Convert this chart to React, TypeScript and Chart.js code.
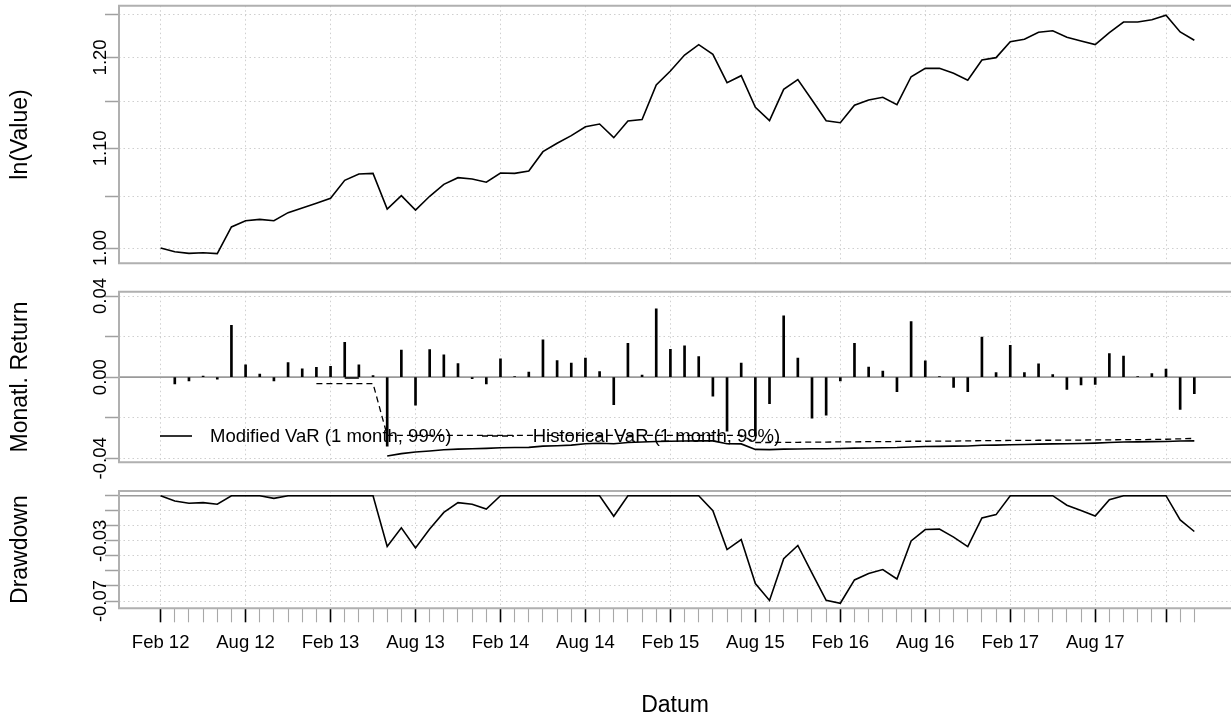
import React, { useEffect, useRef } from 'react';
import { Chart, registerables } from 'chart.js';

Chart.register(...registerables);

const FONT = '"Liberation Sans", Arial, Helvetica, sans-serif';

// x positions are month indices (0 = first observation)
const TICK_LABELS = ['Feb 12', 'Aug 12', 'Feb 13', 'Aug 13', 'Feb 14', 'Aug 14', 'Feb 15', 'Aug 15', 'Feb 16', 'Aug 16', 'Feb 17', 'Aug 17'];
const TICK_INDEX = [0, 6, 12, 18, 24, 30, 36, 42, 48, 54, 60, 66];
const MAJOR_TICK_INDEX = [0, 6, 12, 18, 24, 30, 36, 42, 48, 54, 60, 66, 71];

const WEALTH = [
  1.0, 0.9965, 0.9949, 0.9955, 0.9946, 1.0203, 1.0264, 1.0278, 1.0264, 1.0344,
  1.039, 1.0437, 1.0487, 1.0669, 1.0733, 1.074, 1.038, 1.0513, 1.037, 1.0507,
  1.0628, 1.0696, 1.0682, 1.0649, 1.0744, 1.074, 1.0764, 1.0965, 1.1054, 1.1135,
  1.123, 1.1259, 1.1113, 1.1292, 1.1307, 1.1688, 1.1845, 1.2027, 1.2147, 1.2035,
  1.1713, 1.1792, 1.1441, 1.1295, 1.1639, 1.1747, 1.1521, 1.1295, 1.1273, 1.1463,
  1.1521, 1.1551, 1.1469, 1.178, 1.1875, 1.1875, 1.1819, 1.174, 1.197, 1.1997,
  1.2182, 1.2209, 1.2291, 1.231, 1.2233, 1.2189, 1.2147, 1.2287, 1.2413, 1.2413,
  1.244, 1.2493, 1.2295, 1.2198,
];

const RETURNS = [
  null, -0.0033, -0.0018, 0.0005, -0.001, 0.0255, 0.0061, 0.0015, -0.0018, 0.0072,
  0.0041, 0.0049, 0.0053, 0.0172, 0.0061, 0.0008, -0.034, 0.0133, -0.0138, 0.0136,
  0.011, 0.0067, -0.0007, -0.0033, 0.009, 0.0002, 0.0025, 0.0184, 0.0082, 0.0069,
  0.0094, 0.0028, -0.0136, 0.0167, 0.001, 0.0337, 0.0137, 0.0154, 0.0102, -0.0094,
  -0.0266, 0.0069, -0.029, -0.0131, 0.0302, 0.0094, -0.0202, -0.0187, -0.0018, 0.0167,
  0.005, 0.003, -0.0071, 0.0274, 0.0081, 0.0003, -0.0051, -0.0071, 0.0198, 0.0023,
  0.0157, 0.0023, 0.0066, 0.0013, -0.006, -0.0038, -0.0036, 0.0116, 0.0104, 0.0002,
  0.0018, 0.004, -0.0159, -0.0081,
];

const MOD_VAR = [
  null, null, null, null, null, null, null, null, null, null,
  null, null, null, -0.0004, -0.0004, null, -0.0389, -0.0377, -0.0369, -0.0364,
  -0.0358, -0.0355, -0.0353, -0.0351, -0.0348, -0.0347, -0.0346, -0.034, -0.0338, -0.0335,
  -0.0328, -0.0326, -0.0328, -0.0322, -0.032, -0.0317, -0.0316, -0.0315, -0.0314, -0.0314,
  -0.0328, -0.0329, -0.0356, -0.0357, -0.0355, -0.0354, -0.0353, -0.0353, -0.0352, -0.035,
  -0.0349, -0.0348, -0.0347, -0.0344, -0.0342, -0.0341, -0.034, -0.0339, -0.0336, -0.0335,
  -0.0333, -0.0332, -0.033, -0.0329, -0.0328, -0.0327, -0.0325, -0.0322, -0.032, -0.0319,
  -0.0318, -0.0317, -0.0315, -0.0314,
];

const HIST_VAR = [
  null, null, null, null, null, null, null, null, null, null,
  null, -0.0032, -0.0032, -0.0032, -0.0032, -0.0032, -0.0287, -0.0287, -0.0287, -0.0287,
  -0.0287, -0.0287, -0.0287, -0.0287, -0.0287, -0.0287, -0.0287, -0.0287, -0.0287, -0.0287,
  -0.0287, -0.0287, -0.0287, -0.0287, -0.0287, -0.0287, -0.0287, -0.0287, -0.0287, -0.0287,
  -0.0287, -0.0287, -0.0322, -0.0322, -0.0321, -0.0321, -0.032, -0.032, -0.0319, -0.0319,
  -0.0318, -0.0318, -0.0317, -0.0316, -0.0316, -0.0315, -0.0315, -0.0314, -0.0313, -0.0313,
  -0.0312, -0.0312, -0.0311, -0.0311, -0.031, -0.031, -0.0309, -0.0309, -0.0308, -0.0308,
  -0.0307, -0.0306, -0.0304, -0.0302,
];

const DRAWDOWN = [
  0, -0.0035, -0.005, -0.0046, -0.0057, 0, 0, 0, -0.0018, 0,
  0, 0, 0, 0, 0, 0, -0.0338, -0.0214, -0.0347, -0.0222,
  -0.0111, -0.0046, -0.0057, -0.0089, 0, 0, 0, 0, 0, 0,
  0, 0, -0.0137, 0, 0, 0, 0, 0, 0, -0.01,
  -0.0358, -0.0292, -0.0584, -0.0696, -0.0419, -0.0331, -0.0515, -0.0696, -0.0715, -0.056,
  -0.0517, -0.0491, -0.0554, -0.0301, -0.0225, -0.0222, -0.0275, -0.0338, -0.0148, -0.0126,
  0, 0, 0, 0, -0.0063, -0.0098, -0.0135, -0.0026, 0, 0,
  0, 0, -0.0161, -0.0238,
];

const VALUE_TICKS = [1.0, 1.05, 1.1, 1.15, 1.2, 1.25];
const VALUE_LABELS = [1.0, 1.1, 1.2];
const RETURN_TICKS = [-0.04, -0.02, 0, 0.02, 0.04];
const RETURN_LABELS = [-0.04, 0, 0.04];
const DD_TICKS = [0, -0.01, -0.02, -0.03, -0.04, -0.05, -0.06, -0.07];
const DD_LABELS = [-0.03, -0.07];

const LEGEND_ITEMS = ['Modified VaR (1 month, 99%)', 'Historical VaR (1 month, 99%)'];

const GRID = '#cfcfcf';
const FRAME = '#b0b0b0';
const X_MIN = -2.94;
const X_MAX = 75.59;
const Y_AXIS_W = 119;
const TITLE_SIZE = 23;

// canvas slices (they overlap; canvases are transparent)
const C1 = { top: 0, h: 290 };
const C2 = { top: 250, h: 260 };
const C3 = { top: 470, h: 252 };

const toXY = (arr: (number | null)[]) => arr.map((v, i) => ({ x: i, y: v }));

function xScale(bottom: boolean, axisHeight: number): any {
  const isMajor = (c: any) => MAJOR_TICK_INDEX.includes(Math.round(c.tick ? c.tick.value : -1));
  return {
    type: 'linear',
    min: X_MIN,
    max: X_MAX,
    offset: false,
    afterBuildTicks: (s: any) => {
      s.ticks = WEALTH.map((_, i) => ({ value: i }));
    },
    afterFit: (s: any) => {
      s.height = bottom ? axisHeight : 0;
    },
    ticks: {
      display: bottom,
      autoSkip: false,
      maxRotation: 0,
      minRotation: 0,
      padding: 10,
      color: '#000',
      font: { family: FONT, size: 18.5 },
      callback: (v: any) => {
        const k = TICK_INDEX.indexOf(Math.round(v));
        return k >= 0 ? TICK_LABELS[k] : '';
      },
    },
    grid: {
      offset: false,
      color: (c: any) => (isMajor(c) ? GRID : 'rgba(0,0,0,0)'),
      lineWidth: 1,
      drawTicks: bottom,
      tickLength: 14,
      tickColor: (c: any) => (isMajor(c) ? '#000' : '#a8a8a8'),
      tickWidth: (c: any) => (isMajor(c) ? 1.6 : 1.1),
      tickBorderDash: [],
    },
    border: { display: false, dash: [1.5, 3] },
    title: bottom
      ? { display: true, text: 'Datum', color: '#000', font: { family: FONT, size: TITLE_SIZE }, padding: { top: 0, bottom: 2.2 } }
      : { display: false },
  };
}

function yScale(type: string, min: number, max: number, ticks: number[], title: string): any {
  return {
    type,
    min,
    max,
    afterBuildTicks: (s: any) => {
      s.ticks = ticks.map((v) => ({ value: v }));
    },
    afterFit: (s: any) => {
      s.width = Y_AXIS_W;
    },
    ticks: { display: false },
    grid: {
      color: GRID,
      lineWidth: 1,
      drawTicks: true,
      tickLength: 14,
      tickColor: '#a0a0a0',
      tickWidth: 1.5,
      tickBorderDash: [],
    },
    border: { display: false, dash: [1.5, 3] },
    title: { display: true, text: title, color: '#000', font: { family: FONT, size: TITLE_SIZE }, padding: { top: 7.2, bottom: 0 } },
  };
}

function framePlugin(labels: number[], zeroLine: boolean) {
  return {
    id: 'frame',
    beforeDatasetsDraw(chart: any) {
      if (!zeroLine) return;
      const { ctx, chartArea } = chart;
      const y = chart.scales.y.getPixelForValue(0);
      ctx.save();
      ctx.strokeStyle = '#9a9a9a';
      ctx.lineWidth = 1.6;
      ctx.beginPath();
      ctx.moveTo(chartArea.left, y);
      ctx.lineTo(chartArea.right, y);
      ctx.stroke();
      ctx.restore();
    },
    afterDraw(chart: any) {
      const { ctx, chartArea } = chart;
      ctx.save();
      ctx.strokeStyle = FRAME;
      ctx.lineWidth = 2;
      ctx.beginPath();
      ctx.moveTo(chartArea.right + 5, chartArea.top);
      ctx.lineTo(chartArea.left, chartArea.top);
      ctx.lineTo(chartArea.left, chartArea.bottom);
      ctx.lineTo(chartArea.right + 5, chartArea.bottom);
      ctx.stroke();
      ctx.fillStyle = '#000';
      ctx.font = `18.5px ${FONT}`;
      ctx.textAlign = 'center';
      ctx.textBaseline = 'middle';
      const ys = chart.scales.y;
      for (const v of labels) {
        const py = ys.getPixelForValue(v);
        ctx.save();
        ctx.translate(101, py);
        ctx.rotate(-Math.PI / 2);
        ctx.fillText(v.toFixed(2), 0, 0);
        ctx.restore();
      }
      ctx.restore();
    },
  };
}

const legendPlugin = {
  id: 'varLegend',
  afterDatasetsDraw(chart: any) {
    const { ctx, chartArea } = chart;
    const y = chartArea.top + 144.3;
    const l = chartArea.left;
    ctx.save();
    ctx.strokeStyle = '#000';
    ctx.lineWidth = 1.6;
    ctx.beginPath();
    ctx.moveTo(l + 41, y);
    ctx.lineTo(l + 73, y);
    ctx.stroke();
    ctx.setLineDash([6, 4]);
    ctx.lineWidth = 1.3;
    ctx.beginPath();
    ctx.moveTo(l + 363, y);
    ctx.lineTo(l + 395, y);
    ctx.stroke();
    ctx.fillStyle = '#000';
    ctx.font = `18.5px ${FONT}`;
    ctx.textAlign = 'left';
    ctx.textBaseline = 'middle';
    ctx.fillText(LEGEND_ITEMS[0], l + 91, y + 1);
    ctx.fillText(LEGEND_ITEMS[1], l + 413.7, y + 1);
    ctx.restore();
  },
};

const baseOptions = (padTop: number, padBottom: number) => ({
  responsive: false,
  animation: false as const,
  devicePixelRatio: 1,
  layout: { padding: { top: padTop, bottom: padBottom, left: 0, right: 0 } },
  plugins: { legend: { display: false }, tooltip: { enabled: false } },
  events: [],
});

export default function App() {
  const c1 = useRef<HTMLCanvasElement>(null);
  const c2 = useRef<HTMLCanvasElement>(null);
  const c3 = useRef<HTMLCanvasElement>(null);

  useEffect(() => {
    document.body.style.margin = '0';
    document.body.style.overflow = 'hidden';
    const charts: Chart[] = [];

    charts.push(
      new Chart(c1.current as HTMLCanvasElement, {
        type: 'line',
        data: {
          datasets: [
            { data: toXY(WEALTH) as any, borderColor: '#000', borderWidth: 1.6, pointRadius: 0, tension: 0 },
          ],
        },
        options: {
          ...baseOptions(5.7 - C1.top, C1.top + C1.h - 263.3),
          scales: {
            x: xScale(false, 0),
            y: yScale('logarithmic', 0.98548, 1.2608, VALUE_TICKS, 'ln(Value)'),
          },
        } as any,
        plugins: [framePlugin(VALUE_LABELS, false)],
      })
    );

    charts.push(
      new Chart(c2.current as HTMLCanvasElement, {
        type: 'line',
        data: {
          datasets: [
            { type: 'bar', data: toXY(RETURNS) as any, backgroundColor: '#000', borderWidth: 0, barThickness: 2 } as any,
            { data: toXY(MOD_VAR) as any, borderColor: '#000', borderWidth: 1.6, pointRadius: 0, tension: 0, spanGaps: false },
            { data: toXY(HIST_VAR) as any, borderColor: '#000', borderWidth: 1.3, borderDash: [6, 4], pointRadius: 0, tension: 0, spanGaps: false },
          ],
        },
        options: {
          ...baseOptions(291.7 - C2.top, C2.top + C2.h - 462.3),
          scales: {
            x: xScale(false, 0),
            y: yScale('linear', -0.04197, 0.04212, RETURN_TICKS, 'Monatl. Return'),
          },
        } as any,
        plugins: [framePlugin(RETURN_LABELS, true), legendPlugin],
      })
    );

    charts.push(
      new Chart(c3.current as HTMLCanvasElement, {
        type: 'line',
        data: {
          datasets: [
            { data: toXY(DRAWDOWN) as any, borderColor: '#000', borderWidth: 1.6, pointRadius: 0, tension: 0 },
          ],
        },
        options: {
          ...baseOptions(491 - C3.top, 0),
          scales: {
            x: xScale(true, C3.top + C3.h - 608.3),
            y: yScale('linear', -0.07485, 0.00312, DD_TICKS, 'Drawdown'),
          },
        } as any,
        plugins: [framePlugin(DD_LABELS, true)],
      })
    );

    return () => charts.forEach((c) => c.destroy());
  }, []);

  const cs = (top: number, h: number): React.CSSProperties => ({
    position: 'absolute',
    left: 0,
    top,
    width: 1231,
    height: h,
    display: 'block',
  });

  return (
    <div style={{ position: 'absolute', left: 0, top: 0, width: 1231, height: 722, overflow: 'hidden', background: '#fff' }}>
      <canvas ref={c1} width={1231} height={C1.h} style={cs(C1.top, C1.h)} />
      <canvas ref={c2} width={1231} height={C2.h} style={cs(C2.top, C2.h)} />
      <canvas ref={c3} width={1231} height={C3.h} style={cs(C3.top, C3.h)} />
    </div>
  );
}
